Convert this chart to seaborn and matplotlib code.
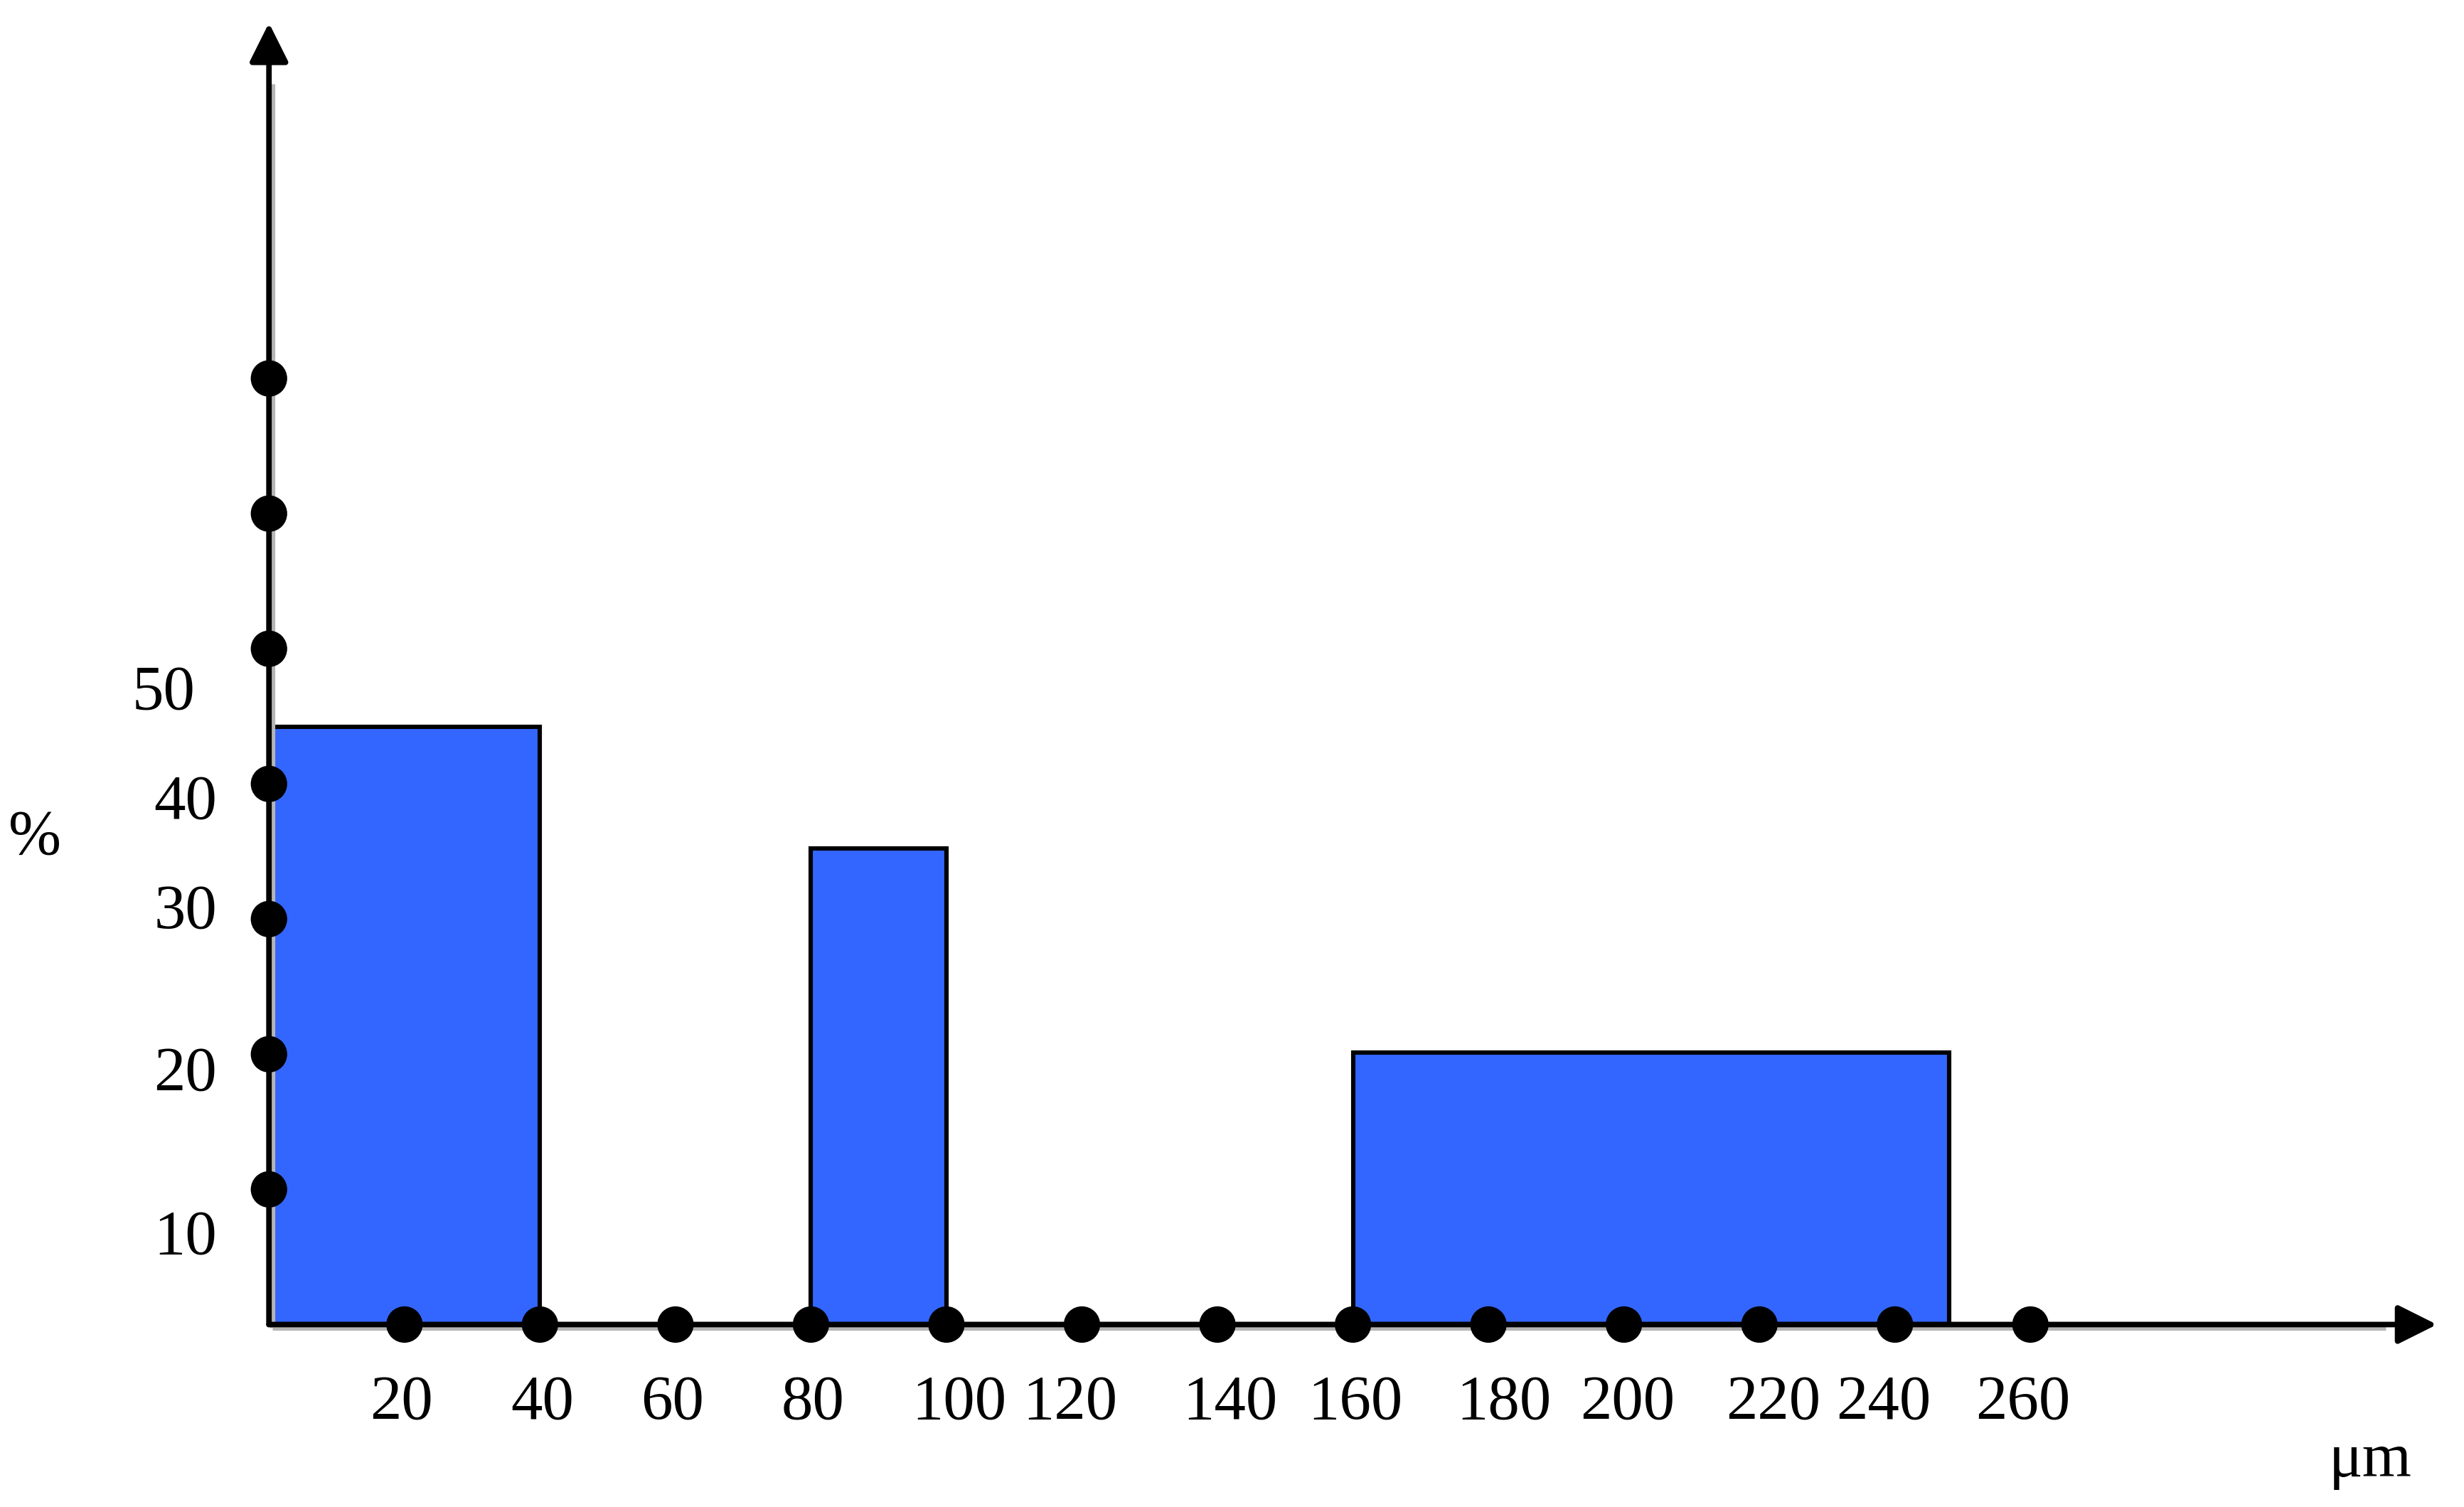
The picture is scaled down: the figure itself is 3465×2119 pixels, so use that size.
import matplotlib
matplotlib.use("Agg")
import matplotlib.pyplot as plt
import matplotlib.transforms as mtransforms
import seaborn as sns
import pandas as pd

# size classes (um) and their share (%)
bin_edges = [0, 40, 80, 100, 160, 248]
bin_heights = [44.2, 0, 35.2, 0, 20.1]

# marker dots along both axes
x_dots = [20, 40, 60, 80, 100, 120, 140, 160, 180, 200, 220, 240, 260]
y_dots = [10, 20, 30, 40, 50, 60, 70]

# tick texts as they are printed in the figure
x_labels = ["20", "40", "60", "80", "100", "120", "140", "160", "180", "200", "220", "240", "260"]
y_labels = ["10", "20", "30", "40", "50"]

# where the printed tick texts sit (they do not line up exactly with the dots)
x_label_pos = [19.5, 40.4, 59.6, 80.3, 101.9, 118.3, 141.9, 160.3, 182.3, 200.5, 222.0, 238.3, 258.9]
y_label_pos = [6.4, 18.5, 30.5, 38.6, 46.7]
y_label_right = [-7.7, -7.7, -7.7, -7.7, -10.9]

BLUE = "#3366FF"

sns.set_style("white")
plt.rcParams["font.family"] = ["Liberation Serif", "DejaVu Serif"]
plt.rcParams["text.color"] = "black"

fig = plt.figure(figsize=(3466 / 200, 2119 / 200), dpi=200)
ax = fig.add_axes([0, 0, 1, 1])

# histogram with unequal bins
centers = [(a + b) / 2 for a, b in zip(bin_edges[:-1], bin_edges[1:])]
df = pd.DataFrame({"size": centers, "pct": bin_heights})
sns.histplot(data=df, x="size", weights="pct", bins=bin_edges, stat="count",
             color=BLUE, alpha=1, edgecolor="black", linewidth=2.2, ax=ax, zorder=2)
ax.set_xlim(-39.7, 324.1)
ax.set_ylim(-13.5, 98.0)
ax.axis("off")

# axes drawn as arrows, with a faint grey shadow
shadow = ax.transData + mtransforms.ScaledTranslation(1.6 / 72, -1.6 / 72, fig.dpi_scale_trans)
ax.plot([0, 312], [0, 0], color="#b5b5b5", lw=2.6, transform=shadow, zorder=3, solid_capstyle="butt")
ax.plot([0, 0], [0, 92], color="#b5b5b5", lw=2.6, transform=shadow, zorder=3, solid_capstyle="butt")
arrow = dict(arrowstyle="-|>", color="black", lw=2.8, mutation_scale=42, shrinkA=0, shrinkB=0)
ax.annotate("", xy=(320, 0), xytext=(0, 0), arrowprops=arrow, zorder=4)
ax.annotate("", xy=(0, 96.3), xytext=(0, 0), arrowprops=arrow, zorder=4)

# dots on the axes
sns.scatterplot(x=x_dots, y=[0] * len(x_dots), color="black", s=340, marker="o",
                edgecolor="none", ax=ax, zorder=5, clip_on=False)
sns.scatterplot(x=[0] * len(y_dots), y=y_dots, color="black", s=340, marker="o",
                edgecolor="none", ax=ax, zorder=5, clip_on=False)

# tick texts
for pos, lab in zip(x_label_pos, x_labels):
    ax.text(pos, -5.8, lab, ha="center", va="center", fontsize=32)
for pos, right, lab in zip(y_label_pos, y_label_right, y_labels):
    ax.text(right, pos, lab, ha="right", va="center", fontsize=32)

ax.text(-34.6, 36.0, "%", ha="center", va="center", fontsize=32)
ax.text(310.2, -10.1, "μm", ha="center", va="center", fontsize=32)

fig.savefig("out.png", dpi=200)
